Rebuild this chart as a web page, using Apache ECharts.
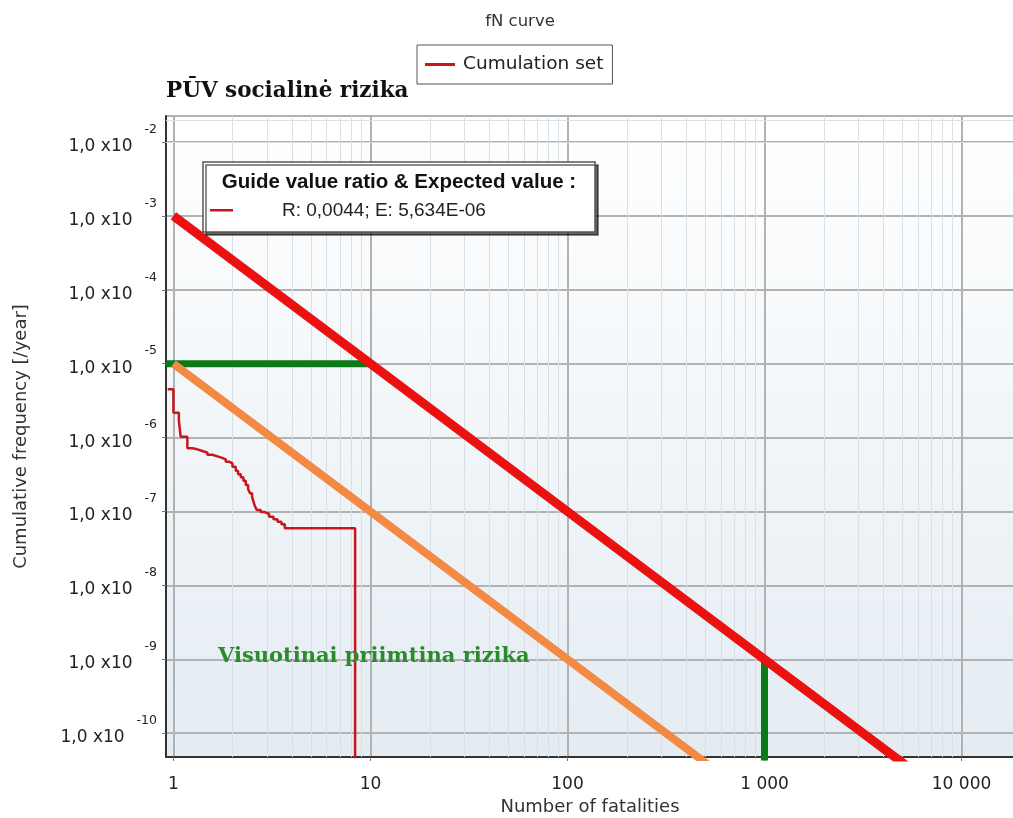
<!DOCTYPE html>
<html>
<head>
<meta charset="utf-8">
<script src="https://cdn.jsdelivr.net/npm/echarts@6/dist/echarts.min.js"></script>
<style>
  html, body { margin: 0; padding: 0; background: #fff; }
  #chart { width: 1013px; height: 818px; }
</style>
</head>
<body>
<div id="chart"></div>
<script>
// ---- data ----
const cumulationN = [0.936, 1.0, 1.066, 1.088, 1.177, 1.248, 1.323, 1.403, 1.487, 1.577, 1.672, 1.752, 1.844, 1.917, 1.993, 2.072, 2.129, 2.197, 2.266, 2.329, 2.394, 2.45, 2.508, 2.548, 2.588, 2.649, 2.776, 2.909, 3.06, 3.22, 3.375, 3.535, 3.676, 8.36];
const cumulationF = [4.51e-6, 2.17e-6, 1.69e-6, 1.03e-6, 7.16e-7, 6.94e-7, 6.59e-7, 6.26e-7, 5.87e-7, 5.58e-7, 5.35e-7, 5.08e-7, 4.72e-7, 4.48e-7, 4.04e-7, 3.57e-7, 3.18e-7, 2.90e-7, 2.61e-7, 2.28e-7, 2.00e-7, 1.76e-7, 1.56e-7, 1.36e-7, 1.19e-7, 1.05e-7, 9.84e-8, 9.25e-8, 8.51e-8, 7.83e-8, 7.28e-8, 6.70e-8, 5.91e-8, 1e-12];
const upperLimitN = [1, 10, 100, 1000, 10000];
const upperLimitF = [1e-3, 1e-5, 1e-7, 1e-9, 1e-11];
const lowerLimitN = [1, 10, 100, 1000];
const lowerLimitF = [1e-5, 1e-7, 1e-9, 1e-11];
const acceptN = [0.917, 10, 1000, 1000];
const acceptF = [1e-5, 1e-5, 1e-9, 1e-11];
const xRange = [0.917, 18460];
const yRange = [4.76e-11, 0.0225];
const legendNames = ['Cumulation set'];
const boxTitle = 'Guide value ratio & Expected value :';
const boxValue = 'R: 0,0044; E: 5,634E-06';

const zip = (a, b) => a.map((v, i) => [v, b[i]]);

// minor grid values (2..9 in each decade)
const minorX = [];
for (let d = -1; d <= 4; d++) for (let k = 2; k <= 9; k++) {
  const v = k * Math.pow(10, d);
  if (v > xRange[0] && v < xRange[1]) minorX.push(v);
}
const minorY = [];
for (let d = -11; d <= -2; d++) for (let k = 2; k <= 9; k++) {
  const v = k * Math.pow(10, d);
  if (v > yRange[0] && v < yRange[1]) minorY.push(v);
}

const FONT = 'DejaVu Sans';
const chart = echarts.init(document.getElementById('chart'), null, { renderer: 'canvas' });

function fmtX(v) {
  const n = Math.round(v);
  return String(n).replace(/\B(?=(\d{3})+(?!\d))/g, ' ');
}

chart.setOption({
  animation: false,
  backgroundColor: '#ffffff',
  title: {
    text: 'fN curve',
    left: 515,
    top: 8,
    textAlign: 'center',
    textStyle: { fontFamily: FONT, fontSize: 16.5, fontWeight: 'normal', color: '#333' }
  },
  legend: {
    data: legendNames,
    left: 417,
    top: 45,
    padding: [10, 9, 10, 8],
    backgroundColor: '#fff',
    borderColor: '#555',
    borderWidth: 1,
    icon: 'rect',
    itemWidth: 30,
    itemHeight: 3,
    itemGap: 5,
    textStyle: { fontFamily: FONT, fontSize: 18.5, color: '#222', padding: [0, 0, 0, 3] }
  },
  grid: {
    left: 166,
    right: -1,
    top: 116,
    bottom: 61,
    containLabel: false,
    outerBoundsMode: 'none',
    show: true,
    borderColor: '#9a9a9a',
    borderWidth: 1,
    backgroundColor: {
      type: 'linear', x: 0, y: 0, x2: 0, y2: 1,
      colorStops: [{ offset: 0, color: '#ffffff' }, { offset: 1, color: '#e4ecf2' }]
    }
  },
  xAxis: {
    type: 'log',
    logBase: 10,
    min: xRange[0],
    max: xRange[1],
    splitNumber: 5,
    name: 'Number of fatalities',
    nameLocation: 'middle',
    nameGap: 41,
    nameTextStyle: { fontFamily: FONT, fontSize: 18, color: '#333' },
    axisLine: { show: true, lineStyle: { color: '#333', width: 2 } },
    axisTick: { show: true, length: 4, lineStyle: { color: '#777' } },
    axisLabel: {
      showMinLabel: false, showMaxLabel: false,
      margin: 19,
      fontFamily: FONT, fontSize: 17, color: '#222',
      formatter: fmtX
    },
    splitLine: { show: true, lineStyle: { color: '#b0b2b4', width: 2 } }
  },
  yAxis: {
    type: 'log',
    logBase: 10,
    min: yRange[0],
    max: yRange[1],
    splitNumber: 9,
    name: 'Cumulative frequency [/year]',
    nameLocation: 'middle',
    nameGap: 136,
    nameTextStyle: { fontFamily: FONT, fontSize: 18, color: '#333' },
    axisLine: { show: true, lineStyle: { color: '#333', width: 2 } },
    axisTick: { show: true, length: 4, lineStyle: { color: '#777' } },
    axisLabel: {
      showMinLabel: false, showMaxLabel: false,
      margin: 9,
      padding: [0, 0, 6, 0],
      formatter: v => '{m|1,0 x10}{s|' + Math.round(Math.log10(v)) + '}',
      rich: {
        m: { fontFamily: FONT, fontSize: 17, color: '#222', lineHeight: 32, verticalAlign: 'bottom' },
        s: { fontFamily: FONT, fontSize: 12.5, color: '#222', lineHeight: 14, verticalAlign: 'top', padding: [0, 0, 0, 12] }
      }
    },
    splitLine: { show: true, lineStyle: { color: '#b0b2b4', width: 2 } }
  },
  series: [
    {
      name: 'minor grid',
      type: 'line',
      data: [],
      silent: true,
      z: 1,
      markLine: {
        z: 1,
        silent: true,
        symbol: 'none',
        label: { show: false },
        lineStyle: { color: '#d8dfe5', width: 1, type: 'solid' },
        data: minorX.map(v => ({ xAxis: v })).concat(minorY.map(v => ({ yAxis: v })))
      }
    },
    {
      name: 'Acceptable limit',
      type: 'line',
      data: zip(acceptN, acceptF),
      showSymbol: false,
      z: 3,
      lineStyle: { color: '#0b7a16', width: 7 },
      itemStyle: { color: '#0b7a16' }
    },
    {
      name: 'Lower limit',
      type: 'line',
      data: zip(lowerLimitN, lowerLimitF),
      showSymbol: false,
      z: 4,
      lineStyle: { color: '#f28a44', width: 8 },
      itemStyle: { color: '#f28a44' }
    },
    {
      name: 'Upper limit',
      type: 'line',
      data: zip(upperLimitN, upperLimitF),
      showSymbol: false,
      z: 5,
      lineStyle: { color: '#ec1010', width: 9 },
      itemStyle: { color: '#ec1010' }
    },
    {
      name: 'Cumulation set',
      type: 'line',
      step: 'end',
      data: zip(cumulationN, cumulationF),
      showSymbol: false,
      z: 6,
      lineStyle: { color: '#c8161e', width: 2.5 },
      itemStyle: { color: '#c8161e' }
    }
  ],
  graphic: [
    {
      type: 'text',
      left: 166,
      top: 80,
      z: 100,
      style: { text: 'PŪV socialinė rizika', font: 'bold 21.5px "DejaVu Serif"', fill: '#111' }
    },
    {
      type: 'text',
      left: 218,
      top: 646,
      z: 100,
      style: { text: 'Visuotinai priimtina rizika', font: 'bold 21px "DejaVu Serif"', fill: '#2b8a2b' }
    },
    {
      type: 'rect',
      z: 100,
      shape: { x: 203, y: 162, width: 392, height: 70 },
      style: { fill: '#fff', stroke: '#555', lineWidth: 1.5, shadowColor: 'rgba(0,0,0,0.6)', shadowOffsetX: 3, shadowOffsetY: 3, shadowBlur: 0 }
    },
    {
      type: 'text',
      z: 101,
      x: 399, y: 182,
      style: { text: boxTitle, font: 'bold 20.5px "Liberation Sans"', fill: '#111', align: 'center', verticalAlign: 'middle' }
    },
    {
      type: 'rect',
      z: 101,
      shape: { x: 210, y: 209, width: 23, height: 2.5 },
      style: { fill: '#c8161e' }
    },
    {
      type: 'text',
      z: 101,
      x: 282, y: 211,
      style: { text: boxValue, font: '19px "Liberation Sans"', fill: '#222', align: 'left', verticalAlign: 'middle' }
    }
  ]
});
</script>
</body>
</html>
